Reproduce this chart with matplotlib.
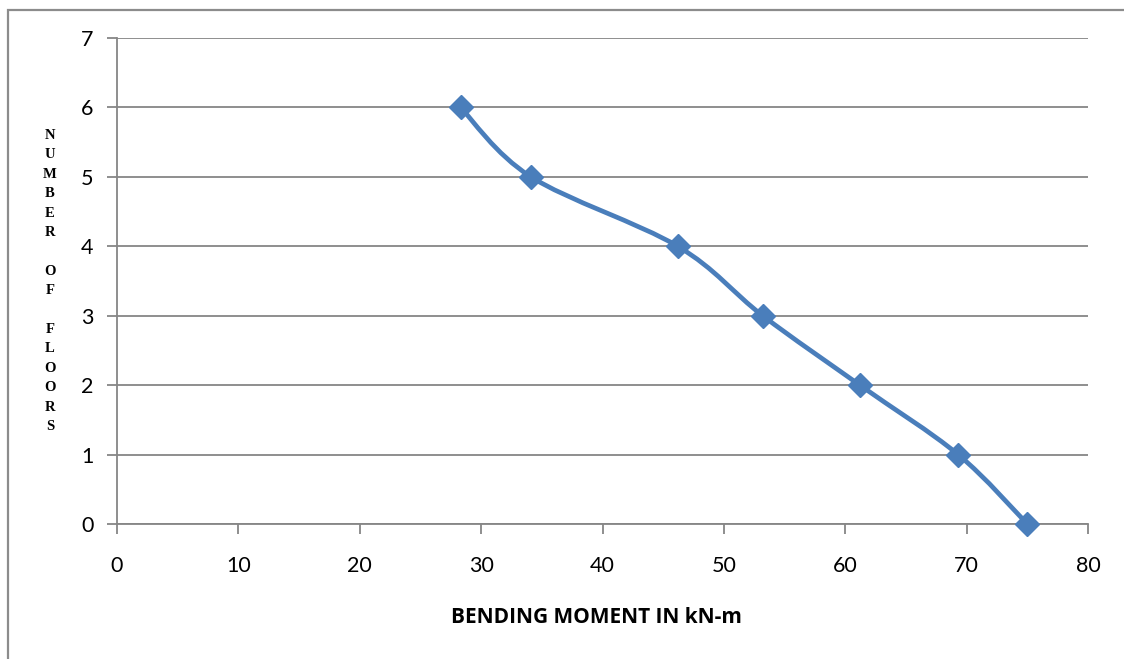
import matplotlib.pyplot as plt
from matplotlib.path import Path
from matplotlib.patches import PathPatch, Rectangle

# values
moment = [28.3, 34.1, 46.2, 53.2, 61.2, 69.3, 75.0]
floors = [6, 5, 4, 3, 2, 1, 0]

x_ticks = [0, 10, 20, 30, 40, 50, 60, 70, 80]
y_ticks = [0, 1, 2, 3, 4, 5, 6, 7]

BLUE = '#4A7EBB'
GRID = '#868686'


def smooth_path(xs, ys, tension=1 / 6):
    """Bezier path through the points, like Excel's smoothed line."""
    pts = list(zip(xs, ys))
    n = len(pts)
    verts = [pts[0]]
    codes = [Path.MOVETO]
    for i in range(n - 1):
        p0 = pts[i - 1] if i > 0 else pts[i]
        p1 = pts[i]
        p2 = pts[i + 1]
        p3 = pts[i + 2] if i + 2 < n else pts[i + 1]
        c1 = (p1[0] + (p2[0] - p0[0]) * tension, p1[1] + (p2[1] - p0[1]) * tension)
        c2 = (p2[0] - (p3[0] - p1[0]) * tension, p2[1] - (p3[1] - p1[1]) * tension)
        verts += [c1, c2, p2]
        codes += [Path.CURVE4] * 3
    return Path(verts, codes)


fig = plt.figure(figsize=(11.24, 6.59), dpi=100)
ax = fig.add_axes([0.1041, 0.2049, 0.8639, 0.7374])

# outer chart frame
fig.patches.append(Rectangle((7.5 / 1124, -0.05), 1.1, 1.05 - 10 / 659,
                             transform=fig.transFigure, fill=False,
                             edgecolor='#8C8C8C', linewidth=1.6))

ax.add_patch(PathPatch(smooth_path(moment, floors), fill=False,
                       edgecolor=BLUE, linewidth=3.4, capstyle='round', zorder=3))
ax.plot(moment, floors, linestyle='none', marker='D', markersize=12,
        color=BLUE, zorder=4, clip_on=False)

ax.set_xlim(0, 80)
ax.set_ylim(0, 7)
ax.set_xticks(x_ticks)
ax.set_yticks(y_ticks)
ax.grid(axis='y', color=GRID, linewidth=1.3)
ax.set_axisbelow(True)

for side in ['top', 'right']:
    ax.spines[side].set_visible(False)
for side in ['left', 'bottom']:
    ax.spines[side].set_color(GRID)
    ax.spines[side].set_linewidth(1.3)

ax.tick_params(axis='both', colors=GRID, labelcolor='black', width=1.3,
               length=7, labelsize=15.5)
ax.tick_params(axis='x', pad=16)
ax.tick_params(axis='y', pad=10)
for lbl in ax.get_xticklabels() + ax.get_yticklabels():
    lbl.set_family('Lato')

ax.set_xlabel('BENDING MOMENT IN kN-m', fontsize=15, fontweight='bold',
              family='Open Sans')
ax.xaxis.set_label_coords(0.494, -0.170)
ax.set_ylabel('N\nU\nM\nB\nE\nR\n\nO\nF\n\nF\nL\nO\nO\nR\nS', rotation=0,
              fontsize=10.5, fontweight='bold', family='Liberation Serif',
              linespacing=1.64, va='center', ha='center')
ax.yaxis.set_label_coords(-0.069, 0.5)

fig.savefig('out.png', dpi=100)
